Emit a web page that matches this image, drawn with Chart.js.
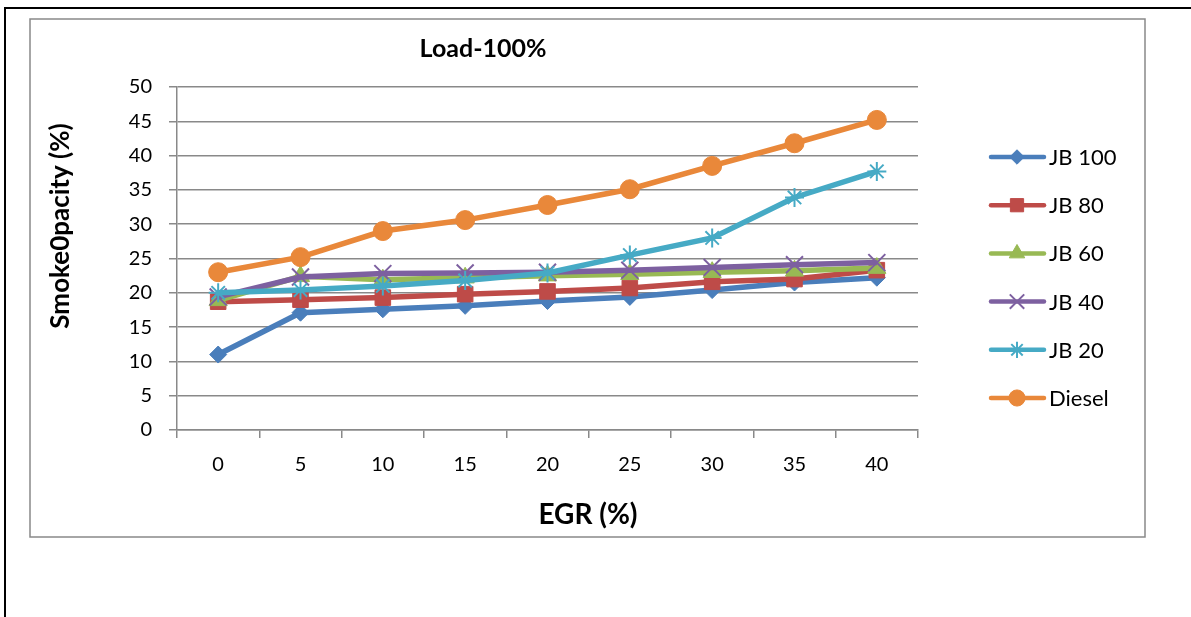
<!DOCTYPE html>
<html>
<head>
<meta charset="utf-8">
<script src="https://cdn.jsdelivr.net/npm/chart.js@4.4.0/dist/chart.umd.min.js"></script>
<style>
  html, body { margin: 0; padding: 0; background: #fff; }
  #wrap { width: 1191px; height: 617px; position: relative; }
</style>
</head>
<body>
<div id="wrap"><canvas id="c" width="1191" height="617"></canvas></div>
<script>
// data
const egr = ['0', '5', '10', '15', '20', '25', '30', '35', '40'];
const jb100  = [11.0, 17.1, 17.6, 18.1, 18.8, 19.4, 20.4, 21.5, 22.2];
const jb80   = [18.7, 19.0, 19.3, 19.8, 20.2, 20.7, 21.6, 22.0, 23.3];
const jb60   = [18.9, 22.4, 21.9, 22.2, 22.5, 22.7, 23.0, 23.2, 23.6];
const jb40   = [19.4, 22.3, 22.8, 22.9, 23.0, 23.3, 23.7, 24.1, 24.4];
const jb20   = [20.0, 20.4, 21.0, 21.8, 22.9, 25.5, 28.0, 33.9, 37.7];
const diesel = [23.0, 25.2, 29.0, 30.6, 32.8, 35.1, 38.5, 41.8, 45.2];

const names   = ['JB 100', 'JB 80', 'JB 60', 'JB 40', 'JB 20', 'Diesel'];
const values  = [jb100, jb80, jb60, jb40, jb20, diesel];
const colors  = ['#4A7EBB', '#BE4B48', '#98B954', '#7D60A0', '#46AAC5', '#E9883A'];
const markers = ['rectRot', 'rect', 'triangle', 'crossRot', 'star', 'circle'];
const radii   = [8.5, 11, 10.5, 12, 9.5, 9.5];

const FONT = 'Lato, "Liberation Sans", sans-serif';
const GRID = '#898989';

// frame + titles + legend, drawn by hand like the excel sheet
const decor = {
  id: 'decor',
  beforeDraw(chart) {
    const ctx = chart.ctx;
    ctx.save();
    ctx.fillStyle = '#fff';
    ctx.fillRect(0, 0, chart.width, chart.height);
    ctx.strokeStyle = '#000';
    ctx.lineWidth = 2;
    ctx.beginPath();
    ctx.moveTo(5, 617); ctx.lineTo(5, 8); ctx.lineTo(1191, 8);
    ctx.stroke();
    ctx.strokeStyle = GRID;
    ctx.lineWidth = 1.5;
    ctx.strokeRect(30, 19, 1115, 518);
    ctx.restore();
  },
  afterDraw(chart) {
    const ctx = chart.ctx;
    ctx.save();
    ctx.fillStyle = '#000';
    ctx.textAlign = 'center';
    ctx.textBaseline = 'middle';
    ctx.font = 'bold 25px ' + FONT;
    ctx.fillText('Load-100%', 483, 49);
    ctx.font = 'bold 28px ' + FONT;
    ctx.fillText('EGR (%)', 588, 515);
    ctx.save();
    ctx.translate(69, 226);
    ctx.rotate(-Math.PI / 2);
    ctx.textBaseline = 'alphabetic';
    ctx.font = 'bold 26px ' + FONT;
    ctx.fillText('Smoke0pacity (%)', 0, 0);
    ctx.restore();

    // legend
    names.forEach((name, i) => {
      const y = 157 + i * 48.2;
      ctx.strokeStyle = colors[i];
      ctx.lineWidth = 4.5;
      ctx.lineCap = 'round';
      ctx.beginPath();
      ctx.moveTo(991, y); ctx.lineTo(1044, y);
      ctx.stroke();
      ctx.fillStyle = colors[i];
      ctx.lineWidth = (markers[i] === 'crossRot' || markers[i] === 'star') ? 2 : 1;
      ctx.lineCap = 'butt';
      Chart.helpers.drawPoint(ctx, {
        pointStyle: markers[i], radius: radii[i] * 0.85, borderWidth: ctx.lineWidth, rotation: 0
      }, 1017, y);
      ctx.fillStyle = '#000';
      ctx.textAlign = 'left';
      ctx.font = '22px ' + FONT;
      ctx.fillText(name, 1049, y + 1);
    });
    ctx.restore();
  }
};

const datasets = names.map((name, i) => ({
  label: name,
  data: values[i],
  borderColor: colors[i],
  backgroundColor: colors[i],
  borderWidth: 5.5,
  pointStyle: markers[i],
  pointRadius: radii[i],
  pointBackgroundColor: colors[i],
  pointBorderColor: colors[i],
  pointBorderWidth: (markers[i] === 'crossRot' || markers[i] === 'star') ? 2 : 1,
  tension: 0,
  order: names.length - i
}));

new Chart(document.getElementById('c'), {
  type: 'line',
  data: { labels: egr, datasets: datasets },
  options: {
    responsive: false,
    animation: false,
    layout: { padding: { left: 0, right: 273, top: 87, bottom: 0 } },
    plugins: { legend: { display: false }, tooltip: { enabled: false } },
    scales: {
      x: {
        type: 'category',
        offset: true,
        grid: { offset: true, drawOnChartArea: false, drawTicks: true, tickLength: 8, color: GRID, lineWidth: 1.5 },
        border: { color: GRID, width: 1.5 },
        ticks: { font: { family: FONT, size: 20 }, color: '#000', padding: 15, maxRotation: 0 },
        afterFit(s) { s.height = 617 - 430; }
      },
      y: {
        min: 0,
        max: 50,
        grid: { color: GRID, lineWidth: 1.5, tickLength: 8 },
        border: { color: GRID, width: 1.5 },
        ticks: { stepSize: 5, font: { family: FONT, size: 20 }, color: '#000', padding: 17 },
        afterFit(s) { s.width = 177; }
      }
    }
  },
  plugins: [decor]
});
</script>
</body>
</html>
